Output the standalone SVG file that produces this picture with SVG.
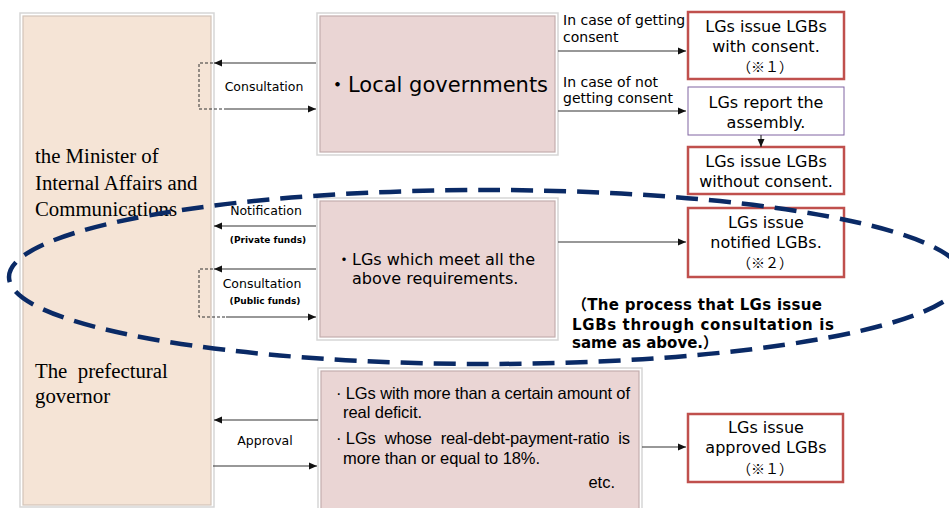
<svg xmlns="http://www.w3.org/2000/svg" width="949" height="508" viewBox="0 0 949 508">
<style>
.sans{font-family:"DejaVu Sans","Noto Sans CJK JP",sans-serif;fill:#000}
.arial{font-family:"Liberation Sans",Arial,sans-serif;fill:#000;font-size:16.5px}
.serif{font-family:"Liberation Serif","Times New Roman",serif;fill:#000;font-size:20.8px}
.cjk{font-family:"Noto Sans CJK JP",sans-serif;fill:#000}
.ln{stroke:#333;stroke-width:1.2;fill:none}
.dash{stroke:#333;stroke-width:1;fill:none;stroke-dasharray:3,2}
.red{fill:#fff;stroke:#c0504d;stroke-width:2.5}
.pur{fill:#fff;stroke:#8064a2;stroke-width:1}
.frame{fill:#fff;stroke:#d6d6d6;stroke-width:1.5}
.pink{fill:#ead5d4;stroke:#c3adad;stroke-width:1.2}
.peach{fill:#f5e4d6;stroke:#d2c4b8;stroke-width:1.2}
.lbl{font-size:12.5px}
.bold9{font-size:9px;font-weight:bold}
.box{font-size:16px}
.small{font-size:14px}
</style>
<defs>
<marker id="ah" markerWidth="8" markerHeight="8" refX="8" refY="4" orient="auto" markerUnits="userSpaceOnUse">
<path d="M0,0.5 L8,4 L0,7.5 z" fill="#111"/>
</marker>
</defs>

<g id="minister-box">
<rect x="20" y="13" width="194" height="494" class="frame"/>
<rect x="23" y="16" width="188" height="489" class="peach"/>
<text class="serif" x="35" y="163">the Minister of</text>
<text class="serif" x="35" y="190">Internal Affairs and</text>
<text class="serif" x="35" y="216">Communications</text>
<text class="serif" x="35" y="378" style="white-space:pre">The  prefectural</text>
<text class="serif" x="35" y="403">governor</text>
</g>

<g id="local-governments">
<rect x="317" y="13" width="241" height="142" class="frame"/>
<rect x="320" y="16" width="235" height="136" class="pink"/>
<text class="sans" x="327" y="92" style="font-size:21px">・Local governments</text>
</g>

<g id="lgs-meet">
<rect x="317" y="198" width="241" height="142" class="frame"/>
<rect x="320" y="201" width="235" height="136" class="pink"/>
<text class="sans" x="336" y="265" style="font-size:16px">・LGs which meet all the</text>
<text class="sans" x="352" y="284" style="font-size:16px">above requirements.</text>
</g>

<g id="lgs-deficit">
<rect x="318" y="368" width="324" height="150" class="frame"/>
<rect x="321" y="371" width="318" height="145" class="pink"/>
<text class="arial" x="336" y="399" textLength="294" lengthAdjust="spacing">· LGs with more than a certain amount of</text>
<text class="arial" x="343" y="418" textLength="79" lengthAdjust="spacing">real deficit.</text>
<text class="arial" x="336" y="444" style="white-space:pre" textLength="294" lengthAdjust="spacing">· LGs  whose  real-debt-payment-ratio  is</text>
<text class="arial" x="343" y="464" textLength="197" lengthAdjust="spacing">more than or equal to 18%.</text>
<text class="arial" x="615" y="488" text-anchor="end">etc.</text>
</g>

<g id="with-consent">
<rect x="688" y="12" width="156" height="67" class="red"/>
<text class="sans box" x="766" y="32" text-anchor="middle">LGs issue LGBs</text>
<text class="sans box" x="766" y="52" text-anchor="middle">with consent.</text>
<text class="cjk" x="765" y="72" text-anchor="middle" style="font-size:14px">（※１）</text>
</g>

<g id="report-assembly">
<rect x="688" y="87" width="156" height="48" class="pur"/>
<text class="sans box" x="766" y="108" text-anchor="middle">LGs report the</text>
<text class="sans box" x="766" y="128" text-anchor="middle">assembly.</text>
</g>

<g id="without-consent">
<rect x="688" y="147" width="156" height="47" class="red"/>
<text class="sans box" x="766" y="167" text-anchor="middle">LGs issue LGBs</text>
<text class="sans box" x="766" y="187" text-anchor="middle">without consent.</text>
</g>

<g id="notified">
<rect x="688" y="208" width="156" height="69" class="red"/>
<text class="sans box" x="766" y="228" text-anchor="middle">LGs issue</text>
<text class="sans box" x="766" y="248" text-anchor="middle">notified LGBs.</text>
<text class="cjk" x="765" y="268" text-anchor="middle" style="font-size:14px">（※２）</text>
</g>

<g id="approved">
<rect x="688" y="414" width="155" height="68" class="red"/>
<text class="sans box" x="766" y="433" text-anchor="middle">LGs issue</text>
<text class="sans box" x="766" y="453" text-anchor="middle">approved LGBs</text>
<text class="cjk" x="765" y="474" text-anchor="middle" style="font-size:14px">（※１）</text>
</g>

<g id="connectors">
<line x1="316" y1="63" x2="214" y2="63" class="ln" marker-end="url(#ah)"/>
<line x1="226" y1="109" x2="316" y2="109" class="ln" marker-end="url(#ah)"/>
<path d="M213,63 H199 V109 H226" class="dash"/>
<text class="sans lbl" x="264" y="91" text-anchor="middle">Consultation</text>

<line x1="558" y1="51" x2="686" y2="51" class="ln" marker-end="url(#ah)"/>
<text class="sans small" x="563" y="25">In case of getting</text>
<text class="sans small" x="563" y="42">consent</text>
<line x1="558" y1="111" x2="686" y2="111" class="ln" marker-end="url(#ah)"/>
<text class="sans small" x="563" y="87">In case of not</text>
<text class="sans small" x="563" y="103">getting consent</text>
<line x1="761" y1="135" x2="761" y2="147" class="ln" marker-end="url(#ah)"/>

<line x1="316" y1="226" x2="214" y2="226" class="ln" marker-end="url(#ah)"/>
<text class="sans lbl" x="266" y="215" text-anchor="middle">Notification</text>
<text class="sans bold9" x="268" y="243" text-anchor="middle">(Private funds)</text>
<line x1="316" y1="269" x2="214" y2="269" class="ln" marker-end="url(#ah)"/>
<line x1="226" y1="317" x2="316" y2="317" class="ln" marker-end="url(#ah)"/>
<path d="M213,269 H199 V317 H226" class="dash"/>
<text class="sans lbl" x="262" y="288" text-anchor="middle">Consultation</text>
<text class="sans bold9" x="265" y="304" text-anchor="middle">(Public funds)</text>
<line x1="558" y1="242" x2="686" y2="242" class="ln" marker-end="url(#ah)"/>

<line x1="318" y1="420" x2="214" y2="420" class="ln" marker-end="url(#ah)"/>
<line x1="213" y1="466" x2="317" y2="466" class="ln" marker-end="url(#ah)"/>
<text class="sans lbl" x="265" y="445" text-anchor="middle">Approval</text>
<line x1="642" y1="447" x2="686" y2="447" class="ln" marker-end="url(#ah)"/>
</g>

<g id="note">
<ellipse cx="486" cy="277" rx="477" ry="87" fill="none" stroke="#0a2a66" stroke-width="4.5" stroke-dasharray="22,11"/>
<text class="sans" x="572" y="310" style="font-size:15px;font-weight:bold" textLength="250" lengthAdjust="spacing">（The process that LGs issue</text>
<text class="sans" x="572" y="330" style="font-size:15px;font-weight:bold" textLength="262" lengthAdjust="spacing">LGBs through consultation is</text>
<text class="sans" x="572" y="348" style="font-size:15px;font-weight:bold" textLength="146" lengthAdjust="spacing">same as above.）</text>
</g>
</svg>
